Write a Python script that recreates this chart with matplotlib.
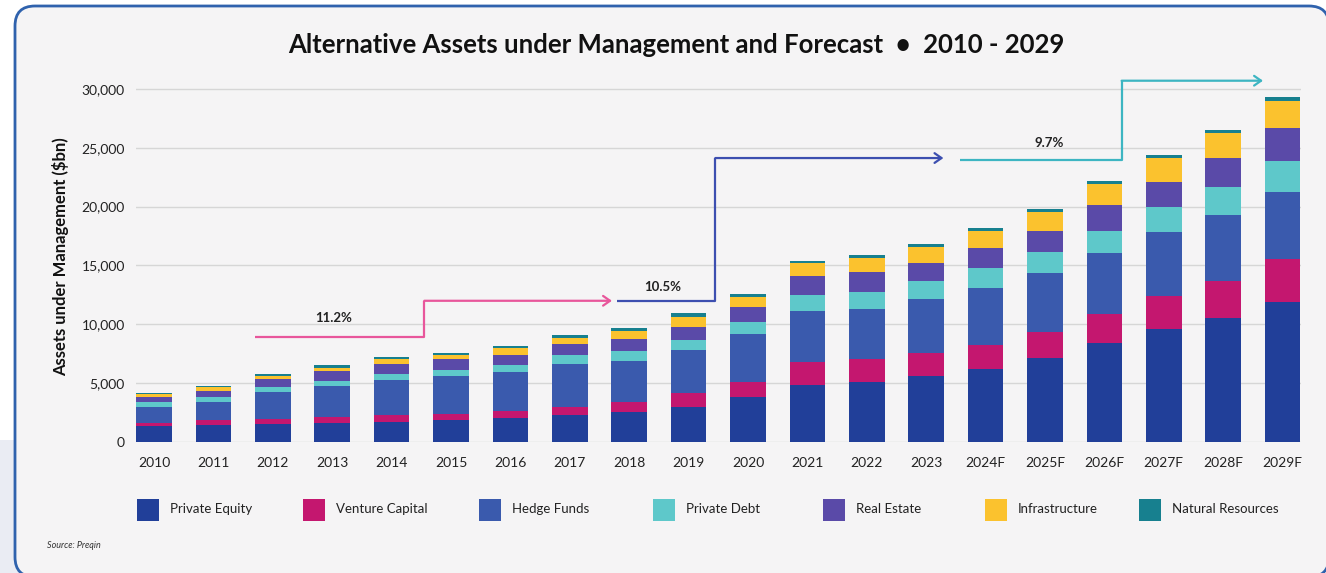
import matplotlib
matplotlib.use("Agg")
import matplotlib.pyplot as plt
from matplotlib.patches import FancyBboxPatch, Rectangle
import numpy as np

years = ['2010', '2011', '2012', '2013', '2014', '2015', '2016', '2017', '2018', '2019',
         '2020', '2021', '2022', '2023', '2024F', '2025F', '2026F', '2027F', '2028F', '2029F']

private_equity = [1390, 1470, 1560, 1610, 1670, 1870, 2070, 2290, 2580, 3000,
                  3850, 4840, 5120, 5610, 6200, 7110, 8440, 9630, 10560, 11870]
venture_capital = [250, 400, 400, 510, 620, 510, 600, 710, 850, 1130,
                   1270, 1980, 1930, 1930, 2070, 2210, 2410, 2780, 3120, 3650]
hedge_funds = [1360, 1530, 2270, 2640, 2970, 3230, 3310, 3630, 3480, 3680,
               4020, 4330, 4270, 4590, 4790, 5010, 5240, 5440, 5580, 5720]
private_debt = [370, 450, 480, 450, 510, 510, 570, 740, 800, 850,
                1020, 1330, 1440, 1560, 1750, 1840, 1870, 2150, 2380, 2660]
real_estate = [480, 510, 680, 790, 880, 910, 850, 930, 1020, 1130,
               1330, 1610, 1670, 1560, 1640, 1780, 2180, 2070, 2490, 2750]
infrastructure = [230, 280, 200, 280, 370, 340, 570, 570, 680, 850,
                  850, 1080, 1220, 1330, 1500, 1590, 1780, 2070, 2100, 2350]
natural_resources = [110, 140, 220, 230, 220, 170, 220, 250, 250, 280,
                     230, 200, 230, 230, 250, 230, 230, 280, 280, 310]

series_names = ['Private Equity', 'Venture Capital', 'Hedge Funds', 'Private Debt',
                'Real Estate', 'Infrastructure', 'Natural Resources']
series_values = [private_equity, venture_capital, hedge_funds, private_debt,
                 real_estate, infrastructure, natural_resources]
colors = ['#213f99', '#c4176f', '#3a5aad', '#5ec8ca', '#5a4aa8', '#fbc22e', '#17808f']

# growth annotations: (label, x path (category units), y path ($bn))
cagr_labels = ['11.2%', '10.5%', '9.7%']
cagr_label_pos = [(3.02, 10560), (8.57, 13200), (15.07, 25380)]
arrow_paths = [
    ([1.70, 4.55, 4.55, 7.71], [8900, 8900, 12000, 12000]),
    ([7.79, 9.45, 9.45, 13.29], [12000, 12000, 24130, 24130]),
    ([13.57, 16.29, 16.29, 18.67], [24000, 24000, 30700, 30700]),
]
arrow_colors = ['#e8569b', '#3d4fb0', '#3db5c2']

yticks = [0, 5000, 10000, 15000, 20000, 25000, 30000]

plt.rcParams['font.family'] = ['Lato', 'DejaVu Sans']

W, H = 1326, 573
fig = plt.figure(figsize=(W / 100, H / 100), dpi=100)
fig.patch.set_facecolor('white')

fig.patches.append(Rectangle((0, 0), 30, H - 440, transform=None,
                             facecolor='#eaecf3', edgecolor='none', zorder=-6))
panel = FancyBboxPatch((15, -4), 1314, H - 6 + 4, boxstyle='round,pad=0,rounding_size=20',
                       transform=None, facecolor='#f5f4f5', edgecolor='#2f62ad',
                       linewidth=2, zorder=-5)
fig.patches.append(panel)

ax = fig.add_axes([136 / W, (H - 442) / H, (1301 - 136) / W, (442 - 71.3) / H])
ax.set_facecolor('none')
ax.set_zorder(1)

x = np.arange(len(years))
bottom = np.zeros(len(years))
for name, vals, c in zip(series_names, series_values, colors):
    v = np.array(vals, dtype=float)
    ax.bar(x, v, width=0.6, bottom=bottom, color=c, label=name, zorder=3)
    bottom += v

ax.set_xlim(-0.303, 19.31)
ax.set_ylim(0, 31500)
ax.set_yticks(yticks)
ax.set_yticklabels([f'{t:,}' for t in yticks])
ax.set_xticks(x)
ax.set_xticklabels(years)
ax.tick_params(axis='y', length=0, pad=8, labelsize=10, labelcolor='#222222')
ax.tick_params(axis='x', length=0, pad=11, labelsize=10, labelcolor='#222222')
for s in ax.spines.values():
    s.set_visible(False)
ax.grid(axis='y', color='#d6d6d6', linewidth=1, zorder=0)
ax.set_axisbelow(True)

ax.set_ylabel('Assets under Management (\\$bn)', fontsize=12, fontweight='bold',
              color='#111111', labelpad=9)

for (px, py), col in zip(arrow_paths, arrow_colors):
    ax.plot(px[:-1], py[:-1], color=col, linewidth=1.6, zorder=4, solid_capstyle='butt')
    ax.annotate('', xy=(px[-1], py[-1]), xytext=(px[-2], py[-2]),
                arrowprops=dict(arrowstyle='->,head_length=0.5,head_width=0.35',
                                color=col, linewidth=1.6, shrinkA=0, shrinkB=0),
                zorder=4)

for lab, (lx, ly) in zip(cagr_labels, cagr_label_pos):
    ax.text(lx, ly, lab, ha='center', va='center', fontsize=9.5, fontweight='bold',
            color='#222222', zorder=5)

fig.text(676 / W, 1 - 45 / H, 'Alternative Assets under Management and Forecast  \u2022  2010 - 2029',
         ha='center', va='center', fontsize=18.5, fontweight='bold', color='#111111')

# legend
sq_x = [137, 303, 479, 653, 823, 985, 1139]
for sx, name, c in zip(sq_x, series_names, colors):
    fig.patches.append(Rectangle((sx, H - 521), 22, 22, transform=None,
                                 facecolor=c, edgecolor='none', zorder=2))
    fig.text((sx + 33) / W, 1 - 509 / H, name, ha='left', va='center',
             fontsize=9.5, color='#222222')

fig.text(47 / W, 1 - 545 / H, 'Source: Preqin', ha='left', va='center',
         fontsize=6.5, style='italic', color='#333333')

fig.savefig('out.png', dpi=100, facecolor=fig.get_facecolor())
